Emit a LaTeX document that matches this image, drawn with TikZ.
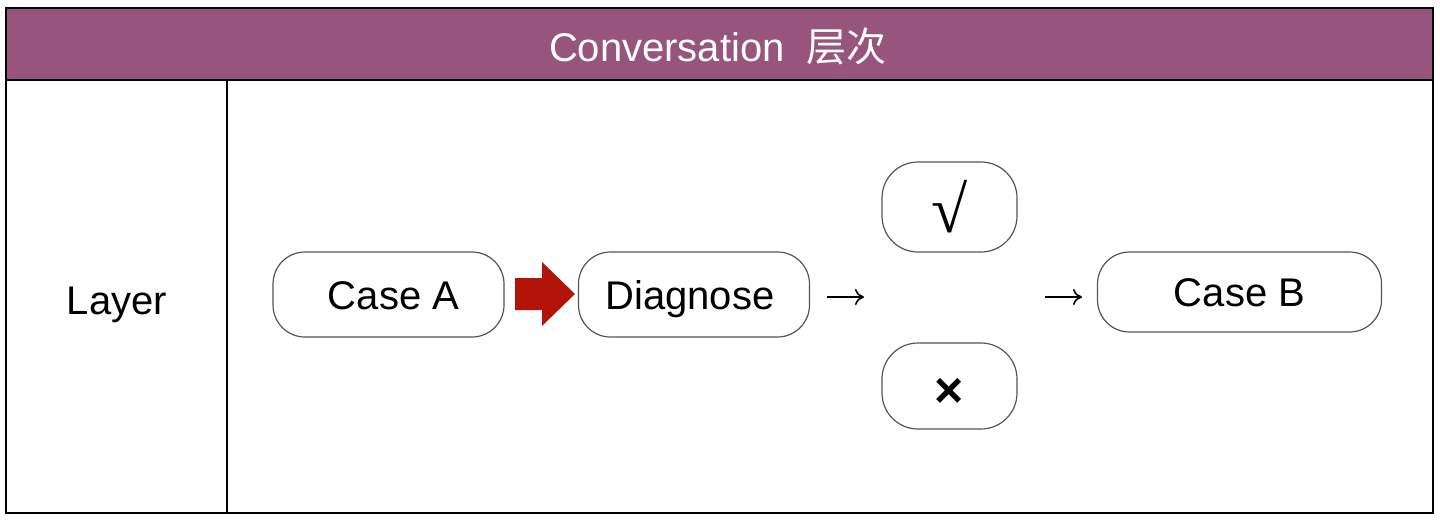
\documentclass[tikz,border=0pt]{standalone}
\usepackage{fontspec}
\setmainfont{Liberation Sans}
\newfontfamily\cjk{Noto Sans CJK SC}
\newfontfamily\serifsym{Liberation Serif}
\usetikzlibrary{arrows.meta}
\definecolor{hdr}{RGB}{151,84,125}
\definecolor{redarrow}{RGB}{178,20,10}
\definecolor{boxline}{RGB}{85,85,85}
\tikzset{
  pill/.style={draw=boxline, line width=1.2pt, fill=white, rounded corners=32pt, inner sep=0pt, text height=29pt, text depth=0pt, font=\fontsize{40}{44}\selectfont},
  tablelines/.style={draw=black, line width=2pt},
  thinarrow/.style={line width=1.6pt, -{To[length=9pt,width=16pt]}}
}
\begin{document}
\begin{tikzpicture}[x=1pt,y=-1pt]
\useasboundingbox (0,0) rectangle (1440,523);
% table
\fill[hdr] (6,8) rectangle (1433,80);
\draw[tablelines] (6,8) rectangle (1433,513);
\draw[tablelines] (6,80) -- (1433,80);
\draw[tablelines] (227,80) -- (227,513);
\node[text=white, text height=29pt, text depth=0pt, inner sep=0pt, font=\fontsize{40}{44}\selectfont] (title) at (718,47) {Conversation\ \ {\cjk 层次}};
\node[text height=29pt, text depth=0pt, inner sep=0pt, font=\fontsize{40}{44}\selectfont] (layer) at (117,300) {Layer};
% nodes
\node[pill, minimum width=231pt, minimum height=85pt] (caseA) at (388.5,294.5) {\hspace*{10pt}Case A};
\node[pill, minimum width=231pt, minimum height=85pt] (diag) at (694,294.5) {Diagnose\hspace*{8pt}};
\node[pill, minimum width=135pt, minimum height=90pt, rounded corners=36pt, text height=, text depth=] (ok) at (949.5,207) {\raisebox{-1pt}{\serifsym\fontsize{66}{68}\selectfont √}};
\node[pill, minimum width=135pt, minimum height=86pt, rounded corners=36pt, text height=, text depth=] (no) at (949.5,386) {\raisebox{-21pt}[0pt][0pt]{\bfseries\fontsize{50}{52}\selectfont ×}};
\node[pill, minimum width=284pt, minimum height=80pt] (caseB) at (1239.5,292) {Case B};
% red block arrow between caseA and diag
\coordinate (rs) at (515,294);
\coordinate (rt) at (575,294);
\fill[redarrow] (rs) ++(0,-16) -- (542,278) -- (542,262) -- (rt) -- (542,326) -- (542,310) -- (515,310) -- cycle;
% thin arrows
\coordinate (a1s) at (827,297);
\coordinate (a1e) at (864,297);
\coordinate (a2s) at (1045,297);
\coordinate (a2e) at (1082,297);
\draw[thinarrow] (a1s) -- (a1e);
\draw[thinarrow] (a2s) -- (a2e);
\end{tikzpicture}
\end{document}
